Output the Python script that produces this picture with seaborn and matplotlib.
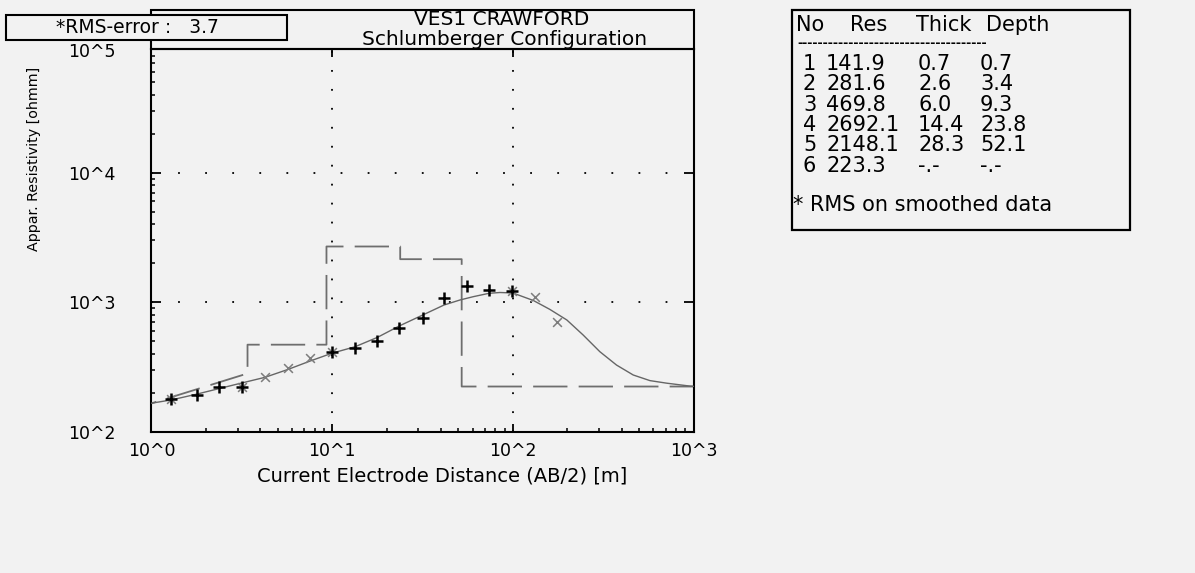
import numpy as np
import pandas as pd
import matplotlib
matplotlib.use("Agg")
import matplotlib.pyplot as plt
from matplotlib.patches import Rectangle
from matplotlib.ticker import FixedLocator, FixedFormatter, LogLocator, NullFormatter
import seaborn as sns

# ---------------- data ----------------
# measured field data (black "+")
plus_x = [1.29, 1.78, 2.36, 3.18, 9.94, 13.4, 17.8, 23.5, 31.7, 41.6, 56.0, 73.8, 99.3]
plus_y = [179, 192, 222, 222, 415, 445, 505, 635, 752, 1072, 1334, 1242, 1219]
# smoothed data (grey "x")
cross_x = [1.29, 3.18, 4.25, 5.71, 7.54, 9.94, 99.3, 132, 175]
cross_y = [179, 222, 263, 309, 369, 415, 1219, 1102, 706]
# model response curve
curve_x = [1.0, 1.29, 1.78, 2.39, 3.09, 4.25, 5.71, 7.54, 9.94, 13.4, 17.8, 23.5, 31.7,
           41.6, 51.0, 60.4, 73.8, 84.9, 100, 130, 160, 199, 245, 303, 375, 464, 574,
           710, 955, 1000]
curve_y = [166, 176, 195, 216, 236, 263, 303, 351, 403, 453, 535, 655, 796,
           951, 1040, 1103, 1171, 1188, 1178, 1030, 881, 729, 558, 415, 327, 274, 248,
           237, 225, 224]
# layered model
layer_no = [1, 2, 3, 4, 5, 6]
layer_res = [141.9, 281.6, 469.8, 2692.1, 2148.1, 223.3]
layer_thick = [0.7, 2.6, 6.0, 14.4, 28.3]
layer_depth = [0.7, 3.4, 9.3, 23.8, 52.1]
model_x_max = 1000

xtick_vals = [1, 10, 100, 1000]
xtick_labels = ["10^0", "10^1", "10^2", "10^3"]
ytick_vals = [100, 1000, 10000]
ytick_labels = ["10^2", "10^3", "10^4"]
ytop_val, ytop_label = 1e5, "10^5"

title_lines = ["VES1 CRAWFORD", "Schlumberger Configuration"]
rms_text = "*RMS-error :   3.7"
xlabel = "Current Electrode Distance (AB/2) [m]"
ylabel = "Appar. Resistivity [ohmm]"
table_header = ["No", "Res", "Thick", "Depth"]
table_note = "* RMS on smoothed data"

# model step polyline built from the layer table
mx, my = [layer_depth[0]], [layer_res[0]]
for i in range(1, len(layer_res)):
    top = layer_depth[i - 1]
    bottom = layer_depth[i] if i < len(layer_depth) else model_x_max
    if i > 1:
        mx.append(top); my.append(layer_res[i])
    mx.append(bottom); my.append(layer_res[i])
model_df = pd.DataFrame({"x": mx, "y": my})
curve_df = pd.DataFrame({"x": curve_x, "y": curve_y})

# ---------------- style ----------------
sns.set_theme(style="ticks")
plt.rcParams["font.family"] = ["DejaVu Sans"]
plt.rcParams["text.color"] = "black"
plt.rcParams["axes.labelcolor"] = "black"
BG = "#f2f2f2"
W, H = 1195, 573

def fx(px):
    return px / W

def fy(py):
    return 1 - py / H

fig = plt.figure(figsize=(W / 100, H / 100), dpi=100, facecolor=BG)
L, R, T, B = 151.5, 693.5, 49.0, 431.7
ax = fig.add_axes([fx(L), fy(B), fx(R) - fx(L), fy(T) - fy(B)])
ax.set_facecolor(BG)
ax.set_xscale("log")
ax.set_yscale("log")
ax.set_xlim(1, 1000)
ax.set_ylim(100, 10 ** 4.955)

# grid (sparse dots)
ax.xaxis.grid(True, which="major", color="black", lw=1.3, linestyle=(0, (1, 9.5)), zorder=0)
ax.yaxis.grid(True, which="major", color="black", lw=1.3, linestyle=(0, (1, 14)), zorder=0)

# model (dashed)
sns.lineplot(data=model_df, x="x", y="y", ax=ax, sort=False, estimator=None,
             color="#6e6e6e", lw=1.3, linestyle=(0, (19, 6.2)), zorder=2)
# response curve
sns.lineplot(data=curve_df, x="x", y="y", ax=ax, sort=False, estimator=None,
             color="#666666", lw=1.0, zorder=3)
# data points
sns.scatterplot(x=cross_x, y=cross_y, ax=ax, marker="x", s=40, color="#7d7d7d",
                linewidth=1.1, zorder=4)
sns.scatterplot(x=plus_x, y=plus_y, ax=ax, marker="+", s=85, color="black",
                linewidth=1.8, zorder=5)

# spines & ticks
for s in ax.spines.values():
    s.set_visible(True)
    s.set_color("black")
    s.set_linewidth(1.5)
ax.xaxis.set_major_locator(FixedLocator(xtick_vals))
ax.xaxis.set_major_formatter(FixedFormatter(xtick_labels))
ax.yaxis.set_major_locator(FixedLocator(ytick_vals))
ax.yaxis.set_major_formatter(FixedFormatter(ytick_labels))
ax.xaxis.set_minor_locator(LogLocator(base=10, subs=np.arange(2, 10)))
ax.yaxis.set_minor_locator(LogLocator(base=10, subs=np.arange(2, 10)))
ax.xaxis.set_minor_formatter(NullFormatter())
ax.yaxis.set_minor_formatter(NullFormatter())
ax.tick_params(axis="both", which="both", direction="in", colors="black",
               labelcolor="black", top=True, right=True, labelsize=12.5)
ax.tick_params(axis="x", which="major", length=6, width=1.3, pad=7.5)
ax.tick_params(axis="y", which="major", length=7.5, width=1.3, pad=26)
ax.tick_params(axis="both", which="minor", length=3, width=1.1, top=False, right=False)

# "10^5" label placed like the other y tick labels (sits just below the RMS box)
tr, va, ha = ax.get_yaxis_text1_transform(26)
ax.text(0, ytop_val, ytop_label, transform=tr, va="top", ha="right",
        fontsize=12.5, color="black", clip_on=False, zorder=1)

ax.set_xlabel(xlabel, fontsize=14, color="black", va="center", ha="center")
ax.xaxis.set_label_coords((442 - L) / (R - L), -(476 - B) / (B - T))
ax.set_ylabel(ylabel, fontsize=10.3, color="black", va="center", ha="center")
ax.yaxis.set_label_coords((34 - L) / (R - L), (B - 159) / (B - T))

# title box above the plot
fig.patches.append(Rectangle((fx(L), fy(T)), fx(R) - fx(L), fy(10) - fy(T),
                             transform=fig.transFigure, fill=False,
                             edgecolor="black", lw=1.5, zorder=3))
fig.text(fx(502), fy(19.5), title_lines[0], fontsize=14.5, ha="center", va="center")
fig.text(fx(505), fy(39.5), title_lines[1], fontsize=14.5, ha="center", va="center")

# RMS box
fig.patches.append(Rectangle((fx(6), fy(40)), fx(287) - fx(6), fy(15) - fy(40),
                             transform=fig.transFigure, facecolor=BG,
                             edgecolor="black", lw=1.5, zorder=5))
fig.text(fx(137), fy(27.5), rms_text, fontsize=13.5, ha="center", va="center", zorder=6)

# layer table
fig.patches.append(Rectangle((fx(792), fy(230)), fx(1130) - fx(792), fy(10) - fy(230),
                             transform=fig.transFigure, fill=False,
                             edgecolor="black", lw=1.6, zorder=3))
tfs = 15
hdr_x = [796, 850, 916, 986]
for hx, h in zip(hdr_x, table_header):
    fig.text(fx(hx), fy(25), h, fontsize=tfs, ha="left", va="center")
fig.text(fx(797), fy(44), "-" * 37, fontsize=9, fontweight="bold", ha="left", va="center")
col_x = [803, 826, 918, 980]
for i, n in enumerate(layer_no):
    yy = fy(64 + 20.3 * i)
    th = f"{layer_thick[i]:.1f}" if i < len(layer_thick) else "-.-"
    dp = f"{layer_depth[i]:.1f}" if i < len(layer_depth) else "-.-"
    for cx, s in zip(col_x, [str(n), f"{layer_res[i]:.1f}", th, dp]):
        fig.text(fx(cx), yy, s, fontsize=tfs, ha="left", va="center")
fig.text(fx(793), fy(205), table_note, fontsize=tfs, ha="left", va="center")

fig.savefig("out.png", dpi=100, facecolor=BG)
